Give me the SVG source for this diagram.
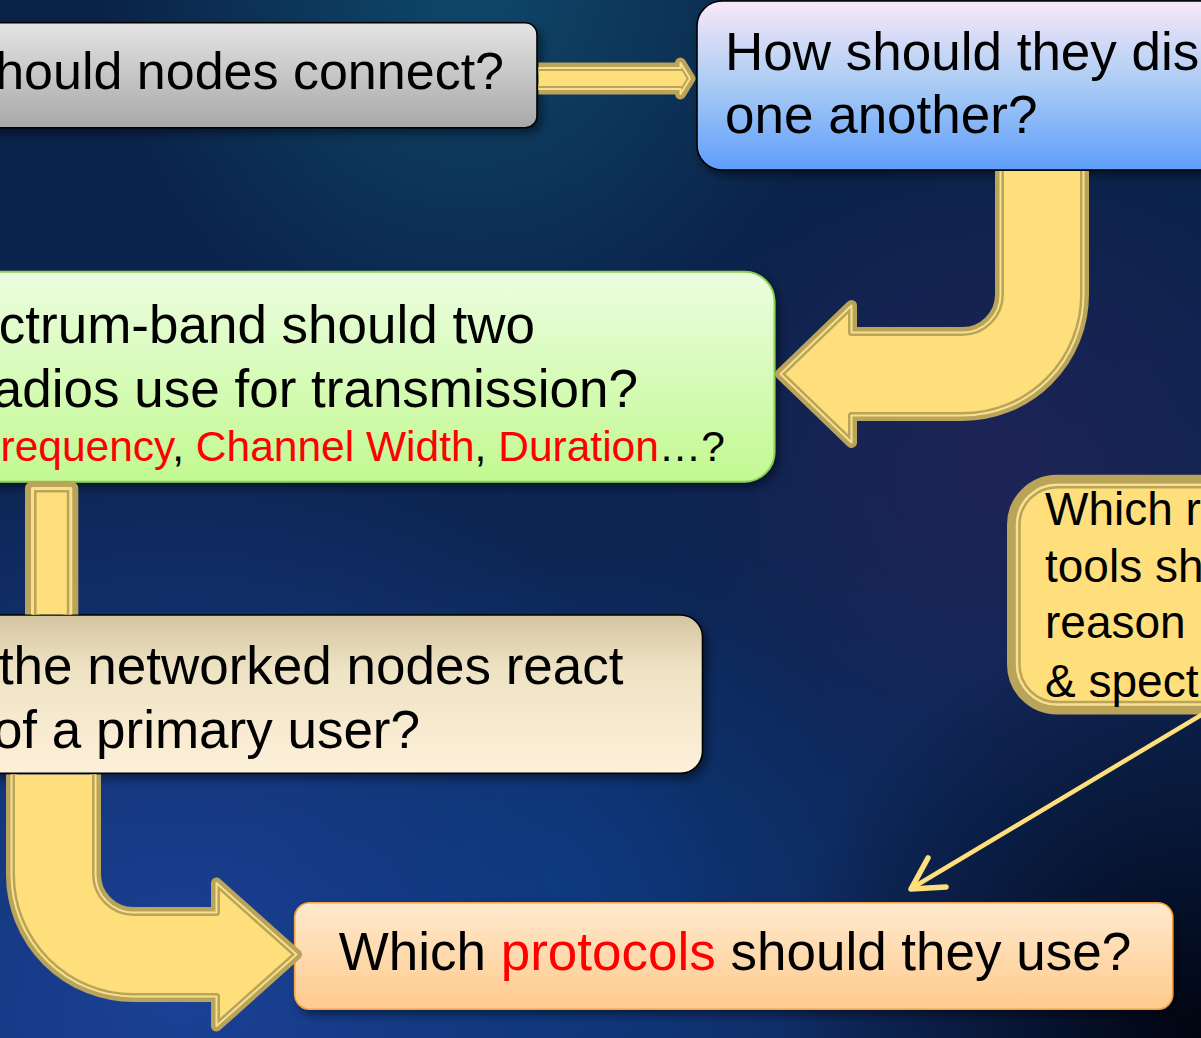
<svg xmlns="http://www.w3.org/2000/svg" width="1201" height="1038" viewBox="0 0 1201 1038">
<style>
.t{font-family:"Liberation Sans",Arial,sans-serif;fill:#000}
.r{fill:#ff0000}
.oa{fill:#fedf7b;stroke:#b9a459;paint-order:stroke;stroke-linejoin:round}
.id{fill:none;stroke:#b9a459;stroke-linejoin:round}
.lt{fill:none;stroke:#f7e08e;stroke-linejoin:round}
.thin{fill:none;stroke:#fedf7b;stroke-linecap:round;stroke-linejoin:round}
</style>
<defs>
<linearGradient id="bgL" x1="0" y1="0" x2="0" y2="1">
<stop offset="0" stop-color="#0a2146"/><stop offset="0.5" stop-color="#0c2552"/><stop offset="1" stop-color="#0f2d66"/>
</linearGradient>
<radialGradient id="rTeal" cx="470" cy="-20" r="380" gradientUnits="userSpaceOnUse">
<stop offset="0" stop-color="#0f4d6e" stop-opacity="0.9"/><stop offset="1" stop-color="#0f4d6e" stop-opacity="0"/>
</radialGradient>
<radialGradient id="rBlue" cx="180" cy="990" r="560" gradientUnits="userSpaceOnUse">
<stop offset="0" stop-color="#1d45a0" stop-opacity="0.85"/><stop offset="1" stop-color="#1d45a0" stop-opacity="0"/>
</radialGradient>
<radialGradient id="rMid" cx="560" cy="880" r="320" gradientUnits="userSpaceOnUse">
<stop offset="0" stop-color="#0b3f8a" stop-opacity="0.6"/><stop offset="1" stop-color="#0b3f8a" stop-opacity="0"/>
</radialGradient>
<radialGradient id="rDark" cx="1201" cy="1038" r="430" gradientUnits="userSpaceOnUse">
<stop offset="0" stop-color="#00030d" stop-opacity="0.97"/><stop offset="1" stop-color="#00030d" stop-opacity="0"/>
</radialGradient>
<radialGradient id="rPurp" cx="1000" cy="470" r="340" gradientUnits="userSpaceOnUse">
<stop offset="0" stop-color="#2b2259" stop-opacity="0.6"/><stop offset="1" stop-color="#2b2259" stop-opacity="0"/>
</radialGradient>
<linearGradient id="gGray" x1="0" y1="0" x2="0" y2="1">
<stop offset="0" stop-color="#e4e4e4"/><stop offset="1" stop-color="#a8a8a8"/>
</linearGradient>
<linearGradient id="gBlue" x1="0" y1="0" x2="0" y2="1">
<stop offset="0" stop-color="#f8e8f8"/><stop offset="0.5" stop-color="#a9cbf4"/><stop offset="1" stop-color="#5e9dfb"/>
</linearGradient>
<linearGradient id="gGreen" x1="0" y1="0" x2="0" y2="1">
<stop offset="0" stop-color="#ecfde0"/><stop offset="1" stop-color="#c2f991"/>
</linearGradient>
<linearGradient id="gBeige" x1="0" y1="0" x2="0" y2="1">
<stop offset="0" stop-color="#d3c5a0"/><stop offset="0.35" stop-color="#efe3c5"/><stop offset="1" stop-color="#fdf0d9"/>
</linearGradient>
<linearGradient id="gOrange" x1="0" y1="0" x2="0" y2="1">
<stop offset="0" stop-color="#ffe9cd"/><stop offset="1" stop-color="#ffca8d"/>
</linearGradient>
<filter id="sh" x="-10%" y="-15%" width="125%" height="150%">
<feDropShadow dx="4" dy="5" stdDeviation="5" flood-color="#000" flood-opacity="0.45"/>
</filter>
<path id="p1" d="M 530,68 L 680.5,68 L 680.5,63 L 690,78.5 L 680.5,94 L 680.5,89 L 530,89 Z"/>
<path id="p2" d="M 1000.5,160 L 1000.5,294.5 A 38 38 0 0 1 962.5,332.5 L 851.5,332.5 L 851.5,305.5 L 780.5,374 L 851.5,442.5 L 851.5,415.5 L 962.5,415.5 A 121 121 0 0 0 1083.5,294.5 L 1083.5,160 Z"/>
<path id="p3" d="M 32.5,640 L 32.5,488.5 L 70.8,488.5 L 70.8,640 Z"/>
<path id="p4" d="M 11.5,760 L 11.5,874.5 A 122 122 0 0 0 133.5,996.5 L 216.5,996.5 L 216.5,1026 L 296.5,954.5 L 216.5,883 L 216.5,912.5 L 133.5,912.5 A 38 38 0 0 1 95.5,874.5 L 95.5,760 Z"/>
<rect id="p5" x="1017" y="484.75" width="260" height="219.75" rx="40"/>
<clipPath id="s1"><use href="#p1"/></clipPath>
<clipPath id="s2"><use href="#p2"/></clipPath>
<clipPath id="s3"><use href="#p3"/></clipPath>
<clipPath id="s4"><use href="#p4"/></clipPath>
<clipPath id="s5"><use href="#p5"/></clipPath>
<clipPath id="k1"><rect x="538.5" y="0" width="700" height="200"/></clipPath>
<clipPath id="k2"><rect x="0" y="171" width="1201" height="900"/></clipPath>
<clipPath id="k3"><rect x="0" y="0" width="1201" height="614.5"/></clipPath>
<clipPath id="k4"><rect x="0" y="774.5" width="1201" height="300"/></clipPath>
</defs>

<g id="background">
<rect width="1201" height="1038" fill="url(#bgL)"/>
<rect width="1201" height="1038" fill="url(#rTeal)"/>
<rect width="1201" height="1038" fill="url(#rPurp)"/>
<rect width="1201" height="1038" fill="url(#rBlue)"/>
<rect width="1201" height="1038" fill="url(#rMid)"/>
<rect width="1201" height="1038" fill="url(#rDark)"/>
</g>

<g id="n-connect">
<rect x="-20" y="22.7" width="557" height="105" rx="12" fill="url(#gGray)" stroke="#000" stroke-width="1.6" filter="url(#sh)"/>
<text class="t" x="504" y="89" font-size="52" text-anchor="end">hould nodes connect?</text>
</g>

<g id="n-discover">
<rect x="697" y="1" width="540" height="169" rx="25" fill="url(#gBlue)" stroke="#000" stroke-width="1.6" filter="url(#sh)"/>
<text class="t" x="725" y="70" font-size="53">How should they dis</text>
<text class="t" x="725" y="133" font-size="53">one another?</text>
</g>

<g id="n-spectrum">
<rect x="-40" y="271.7" width="814.5" height="210" rx="30" fill="url(#gGreen)" stroke="#8cd055" stroke-width="2" filter="url(#sh)"/>
<text class="t" x="535" y="343" font-size="53" text-anchor="end">ctrum-band should two</text>
<text class="t" x="638" y="407" font-size="53" text-anchor="end">adios use for transmission?</text>
<text class="t" x="725" y="461" font-size="42.5" text-anchor="end"><tspan class="r">requency</tspan>, <tspan class="r">Channel Width</tspan>, <tspan class="r">Duration</tspan>…?</text>
</g>

<g id="n-primary">
<rect x="-40" y="615" width="742.5" height="158.3" rx="22" fill="url(#gBeige)" stroke="#000" stroke-width="1.6" filter="url(#sh)"/>
<text class="t" x="623.5" y="684" font-size="53" text-anchor="end">the networked nodes react</text>
<text class="t" x="420" y="748" font-size="53" text-anchor="end">of a primary user?</text>
</g>

<g id="n-protocols">
<rect x="294.7" y="902.7" width="878" height="106.6" rx="15" fill="url(#gOrange)" stroke="#f2a246" stroke-width="1.6" filter="url(#sh)"/>
<text class="t" x="338.7" y="970" font-size="53">Which <tspan class="r">protocols</tspan> should they use?</text>
</g>

<g id="n-tools">
<use href="#p5" class="oa" stroke-width="20"/>
<use href="#p5" class="id" stroke-width="7.5" clip-path="url(#s5)"/>
<use href="#p5" class="lt" stroke-width="2.5"/>
<text class="t" x="1045" y="525" font-size="46">Which r</text>
<text class="t" x="1045" y="582" font-size="46">tools sh</text>
<text class="t" x="1045" y="638" font-size="46">reason</text>
<text class="t" x="1045" y="697" font-size="46">&amp; spect</text>
</g>

<g id="connectors">
<g id="c1" clip-path="url(#k1)">
<use href="#p1" class="oa" stroke-width="11"/>
<use href="#p1" class="id" stroke-width="6" clip-path="url(#s1)"/>
<use href="#p1" class="lt" stroke-width="2"/>
</g>
<g id="c2" clip-path="url(#k2)">
<use href="#p2" class="oa" stroke-width="11"/>
<use href="#p2" class="id" stroke-width="7" clip-path="url(#s2)"/>
<use href="#p2" class="lt" stroke-width="2"/>
</g>
<g id="c3" clip-path="url(#k3)">
<use href="#p3" class="oa" stroke-width="15"/>
<use href="#p3" class="id" stroke-width="8" clip-path="url(#s3)"/>
<use href="#p3" class="lt" stroke-width="3"/>
</g>
<g id="c4" clip-path="url(#k4)">
<use href="#p4" class="oa" stroke-width="11"/>
<use href="#p4" class="id" stroke-width="7" clip-path="url(#s4)"/>
<use href="#p4" class="lt" stroke-width="2"/>
</g>
<g id="c5">
<line class="thin" x1="1203" y1="714" x2="912" y2="888" stroke-width="4.5"/>
<polyline class="thin" points="928,858 911,889 946,887" stroke-width="5.5"/>
</g>
</g>
</svg>
